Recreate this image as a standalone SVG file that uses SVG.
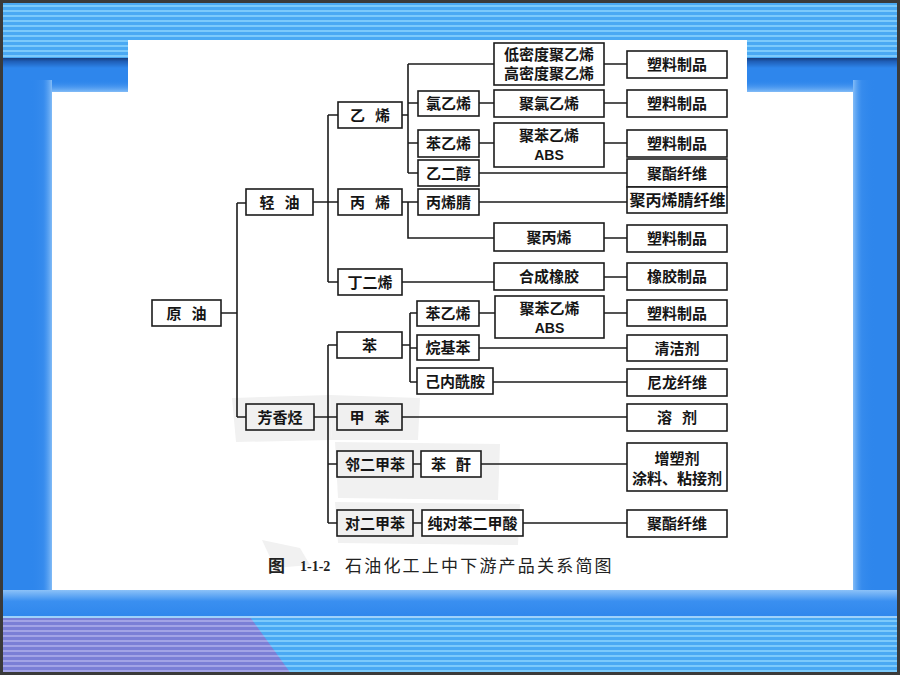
<svg xmlns="http://www.w3.org/2000/svg" width="900" height="675" viewBox="0 0 900 675">
<defs>
  <pattern id="stripeB" width="8" height="5" patternUnits="userSpaceOnUse">
    <rect width="8" height="5" fill="#4aa9f3"/>
    <rect y="0" width="8" height="2" fill="#7ccafb"/>
  </pattern>
  <pattern id="stripeP" width="8" height="5" patternUnits="userSpaceOnUse">
    <rect width="8" height="5" fill="#7b7fd6"/>
    <rect y="0" width="8" height="2" fill="#a3a4e6"/>
  </pattern>
  <linearGradient id="darkTop" x1="0" y1="0" x2="0" y2="1">
    <stop offset="0" stop-color="#163f80"/>
    <stop offset="0.35" stop-color="#1f5fb8"/>
    <stop offset="1" stop-color="#2e86ec"/>
  </linearGradient>
  <linearGradient id="leftGlow" x1="0" y1="0" x2="1" y2="0">
    <stop offset="0" stop-color="#2e86ec" stop-opacity="0"/>
    <stop offset="0.6" stop-color="#4a98f0" stop-opacity="0.3"/>
    <stop offset="1" stop-color="#8cc2f8" stop-opacity="0.9"/>
  </linearGradient>
  <linearGradient id="rightGlow" x1="1" y1="0" x2="0" y2="0">
    <stop offset="0" stop-color="#2e86ec" stop-opacity="0"/>
    <stop offset="0.6" stop-color="#4a98f0" stop-opacity="0.3"/>
    <stop offset="1" stop-color="#8cc2f8" stop-opacity="0.9"/>
  </linearGradient>
  <linearGradient id="topGlow" x1="0" y1="1" x2="0" y2="0">
    <stop offset="0" stop-color="#8cc2f8" stop-opacity="0.9"/>
    <stop offset="1" stop-color="#2e86ec" stop-opacity="0"/>
  </linearGradient>
  <linearGradient id="botGlow" x1="0" y1="0" x2="0" y2="1">
    <stop offset="0" stop-color="#8cc2f8"/>
    <stop offset="0.4" stop-color="#3a8ff0"/>
    <stop offset="1" stop-color="#2e86ec"/>
  </linearGradient>
</defs>
<style>
  .b { fill: #ffffff; stroke: #1c1c1c; stroke-width: 1.6; }
  .g { fill: #f0f0f0; stroke: #1c1c1c; stroke-width: 1.6; }
  .t { font-family: "Noto Sans CJK SC", "Noto Sans", sans-serif; font-size: 15px; font-weight: bold; fill: #151515; text-anchor: middle; }
  .a { font-family: "Liberation Sans", "Noto Sans", sans-serif; font-size: 14px; font-weight: bold; fill: #151515; text-anchor: middle; }
  .c { fill: none; stroke: #1c1c1c; stroke-width: 1.6; }
  .cap { font-family: "Noto Sans CJK SC", sans-serif; font-size: 17px; fill: #222; }
  .wm { fill: #f1f1f1; }
</style>

<!-- background -->
<rect width="900" height="675" fill="#2e86ec"/>
<rect x="0" y="3" width="900" height="56" fill="url(#stripeB)"/>
<rect x="0" y="58" width="900" height="10" fill="url(#darkTop)"/>
<rect x="30" y="80" width="22" height="510" fill="url(#leftGlow)"/>
<rect x="853" y="80" width="22" height="510" fill="url(#rightGlow)"/>
<rect x="52" y="80" width="801" height="12" fill="url(#topGlow)"/>
<rect x="0" y="590" width="900" height="28" fill="url(#botGlow)"/>
<rect x="0" y="617" width="900" height="58" fill="url(#stripeB)"/>
<polygon points="0,617 250,617 292,675 0,675" fill="url(#stripeP)"/>
<rect x="0" y="616" width="900" height="2" fill="#9fd2fb"/>
<rect x="1.5" y="1.5" width="897" height="672" fill="none" stroke="#3a3a3a" stroke-width="3"/>

<!-- white slide panel and scan -->
<rect x="52" y="92" width="801" height="498" fill="#ffffff"/>
<rect x="128" y="40" width="619" height="60" fill="#ffffff"/>

<!-- faint scan watermark -->
<g id="watermark">
  <polygon class="wm" points="232,398 330,395 332,440 236,442"/>
  <polygon class="wm" points="330,395 420,398 418,440 332,440"/>
  <polygon class="wm" points="335,442 500,444 498,500 338,498"/>
  <polygon class="wm" points="335,502 520,504 518,545 338,543"/>
  <polygon class="wm" points="262,540 300,548 310,565 275,568"/>
</g>

<!-- connectors -->
<g id="connectors">
  <path class="c" d="M221,313 H237 M237,203 V417 M237,203 H246 M237,417 H246"/>
  <path class="c" d="M313,202 H328 M328,115 V282 M328,115 H338 M328,202 H338 M328,282 H338"/>
  <path class="c" d="M402,115 H408 M408,64 V173 M408,64 H494 M408,103 H418 M408,143 H418 M408,173 H418"/>
  <path class="c" d="M402,202 H418 M408,202 V238 H494 M402,282 H494"/>
  <path class="c" d="M479,103 H494 M479,143 H494"/>
  <path class="c" d="M604,64 H627 M604,103 H627 M604,143 H627 M479,173 H627 M479,202 H627 M604,238 H627 M604,277 H627"/>
  <path class="c" d="M314,417 H328 M328,345 V523 M328,345 H337 M328,417 H337 M328,464 H337 M328,523 H337"/>
  <path class="c" d="M402,345 H410 M410,313 V382 M410,313 H417 M410,348 H417 M410,382 H417"/>
  <path class="c" d="M479,313 H495 M604,313 H627 M479,348 H627 M493,382 H627 M402,417 H627"/>
  <path class="c" d="M413,464 H421 M481,464 H627 M413,523 H422 M523,523 H627"/>
</g>

<!-- nodes -->
<g id="n-yuanyou"><rect class="b" x="152" y="300" width="69" height="26"/><text class="t" x="186.5" y="318.5" xml:space="preserve">原   油</text></g>
<g id="n-qingyou"><rect class="b" x="246" y="189" width="67" height="26"/><text class="t" x="279.5" y="207.5" xml:space="preserve">轻   油</text></g>
<g id="n-fangxiangting"><rect class="g" x="246" y="404" width="68" height="26"/><text class="t" x="280" y="422.5">芳香烃</text></g>

<g id="n-yixi"><rect class="b" x="338" y="102" width="64" height="26"/><text class="t" x="370" y="120.5" xml:space="preserve">乙   烯</text></g>
<g id="n-bingxi"><rect class="b" x="338" y="189" width="64" height="26"/><text class="t" x="370" y="207.5" xml:space="preserve">丙   烯</text></g>
<g id="n-dingerxi"><rect class="b" x="338" y="269" width="64" height="26"/><text class="t" x="370" y="287.5">丁二烯</text></g>

<g id="n-lvyixi"><rect class="b" x="418" y="91" width="61" height="25"/><text class="t" x="448.5" y="109">氯乙烯</text></g>
<g id="n-benyixi1"><rect class="b" x="418" y="130" width="61" height="27"/><text class="t" x="448.5" y="149">苯乙烯</text></g>
<g id="n-yierchun"><rect class="b" x="418" y="160" width="61" height="26"/><text class="t" x="448.5" y="178.5">乙二醇</text></g>
<g id="n-bingxijing"><rect class="b" x="418" y="189" width="61" height="26"/><text class="t" x="448.5" y="207.5">丙烯腈</text></g>

<g id="n-juyixi"><rect class="b" x="494" y="43" width="110" height="42"/><text class="t" x="549" y="60">低密度聚乙烯</text><text class="t" x="549" y="79">高密度聚乙烯</text></g>
<g id="n-julvyixi"><rect class="b" x="494" y="90" width="110" height="27"/><text class="t" x="549" y="109">聚氯乙烯</text></g>
<g id="n-jubenyixi1"><rect class="b" x="494" y="123" width="110" height="44"/><text class="t" x="549" y="140.5">聚苯乙烯</text><text class="a" x="549" y="160">ABS</text></g>
<g id="n-jubingxi"><rect class="b" x="494" y="223" width="110" height="28"/><text class="t" x="549" y="242.5">聚丙烯</text></g>
<g id="n-hechengxiangjiao"><rect class="b" x="494" y="263" width="110" height="27"/><text class="t" x="549" y="282">合成橡胶</text></g>

<g id="n-suliao1"><rect class="b" x="627" y="51" width="100" height="27"/><text class="t" x="677" y="70">塑料制品</text></g>
<g id="n-suliao2"><rect class="b" x="627" y="90" width="100" height="27"/><text class="t" x="677" y="109">塑料制品</text></g>
<g id="n-suliao3"><rect class="b" x="627" y="130" width="100" height="27"/><text class="t" x="677" y="149">塑料制品</text></g>
<g id="n-juzhi1"><rect class="b" x="627" y="159" width="100" height="28"/><text class="t" x="677" y="178.5">聚酯纤维</text></g>
<g id="n-jubingxijing"><rect class="b" x="627" y="187" width="100" height="26"/><text class="t" x="677.5" y="205.5" style="font-size:16px">聚丙烯腈纤维</text></g>
<g id="n-suliao4"><rect class="b" x="627" y="225" width="100" height="27"/><text class="t" x="677" y="244">塑料制品</text></g>
<g id="n-xiangjiao"><rect class="b" x="627" y="263" width="100" height="27"/><text class="t" x="677" y="282">橡胶制品</text></g>

<g id="n-ben"><rect class="b" x="337" y="332" width="65" height="26"/><text class="t" x="369.5" y="350.5">苯</text></g>
<g id="n-jiaben"><rect class="g" x="337" y="404" width="65" height="26"/><text class="t" x="369.5" y="422.5" xml:space="preserve">甲   苯</text></g>
<g id="n-linerjiaben"><rect class="g" x="337" y="451" width="76" height="26"/><text class="t" x="375" y="469.5">邻二甲苯</text></g>
<g id="n-duierjiaben"><rect class="g" x="337" y="510" width="76" height="26"/><text class="t" x="375" y="528.5">对二甲苯</text></g>

<g id="n-benyixi2"><rect class="b" x="417" y="301" width="62" height="25"/><text class="t" x="448" y="319">苯乙烯</text></g>
<g id="n-wanjiben"><rect class="b" x="417" y="335" width="62" height="25"/><text class="t" x="448" y="353">烷基苯</text></g>
<g id="n-jineixian"><rect class="b" x="417" y="368" width="76" height="26"/><text class="t" x="455" y="386.5">己内酰胺</text></g>
<g id="n-bengan"><rect class="b" x="421" y="451" width="60" height="26"/><text class="t" x="451" y="469.5" xml:space="preserve">苯   酐</text></g>
<g id="n-chunduiben"><rect class="b" x="422" y="510" width="101" height="26"/><text class="t" x="472.5" y="528.5">纯对苯二甲酸</text></g>

<g id="n-jubenyixi2"><rect class="b" x="495" y="296" width="109" height="42"/><text class="t" x="549.5" y="313.5">聚苯乙烯</text><text class="a" x="549.5" y="333">ABS</text></g>

<g id="n-suliao5"><rect class="b" x="627" y="300" width="100" height="26"/><text class="t" x="677" y="318.5">塑料制品</text></g>
<g id="n-qingjieji"><rect class="b" x="627" y="335" width="100" height="26"/><text class="t" x="677" y="353.5">清洁剂</text></g>
<g id="n-nilong"><rect class="b" x="627" y="369" width="100" height="27"/><text class="t" x="677" y="388">尼龙纤维</text></g>
<g id="n-rongji"><rect class="b" x="627" y="404" width="100" height="27"/><text class="t" x="677" y="423" xml:space="preserve">溶   剂</text></g>
<g id="n-zengsuji"><rect class="b" x="627" y="443" width="100" height="48"/><text class="t" x="677" y="463.5">增塑剂</text><text class="t" x="677" y="483.5">涂料、粘接剂</text></g>
<g id="n-juzhi2"><rect class="b" x="627" y="510" width="100" height="27"/><text class="t" x="677" y="529">聚酯纤维</text></g>

<!-- caption -->
<g id="caption">
  <text class="cap" x="268" y="572" style="font-weight:bold">图</text>
  <text x="300" y="571" style="font-family:'Liberation Serif',serif;font-size:14px;font-weight:bold;fill:#222">1-1-2</text>
  <text class="cap" x="345" y="572" style="letter-spacing:2.2px">石油化工上中下游产品关系简图</text>
</g>
</svg>
